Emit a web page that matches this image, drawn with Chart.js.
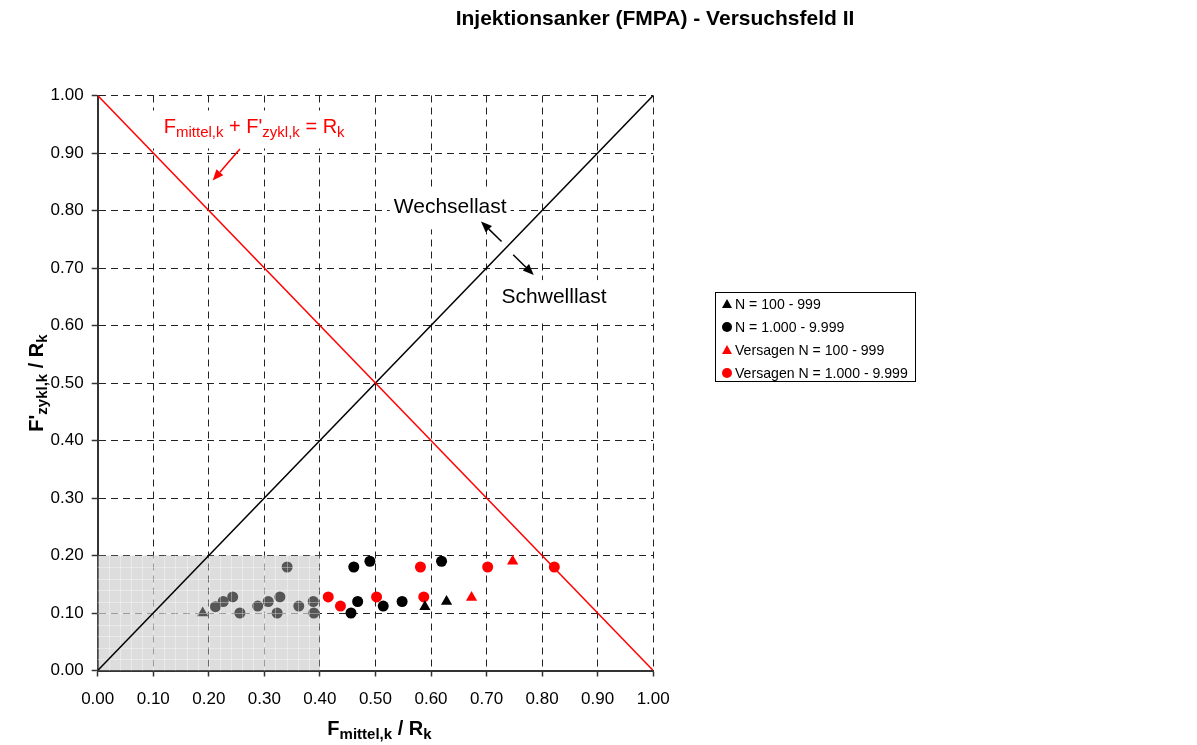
<!DOCTYPE html>
<html>
<head>
<meta charset="utf-8">
<script src="https://cdn.jsdelivr.net/npm/chart.js@4.4.1/dist/chart.umd.min.js"></script>
<style>
  body { margin: 0; background: #fff; }
  #wrap { position: relative; width: 1197px; height: 745px; }
  #legend {
    position: absolute; left: 715px; top: 292px; width: 199px; height: 88px;
    border: 1px solid #000; background: #fff;
    font: 14.1px "Liberation Sans", Arial, sans-serif; color: #000;
  }
  #legend .row { position: absolute; left: 0; height: 20px; line-height: 20px; white-space: nowrap; }
  #legend .mk { position: absolute; left: 6px; top: 5px; }
  #legend .txt { position: absolute; left: 19px; top: 0; }
</style>
</head>
<body>
<div id="wrap">
  <canvas id="chart" width="1197" height="745"></canvas>
  <div id="legend"></div>
</div>
<script>
const FONT = '"Liberation Sans", Arial, Helvetica, sans-serif';

// black triangles: N = 100 - 999
const blackTriX = [0.189, 0.589, 0.628];
const blackTriY = [0.10, 0.111, 0.12];
// black circles: N = 1.000 - 9.999
const blackDotX = [0.212, 0.226, 0.243, 0.256, 0.288, 0.307, 0.323, 0.328, 0.341, 0.362, 0.388, 0.389,
  0.456, 0.461, 0.468, 0.490, 0.514, 0.548, 0.619];
const blackDotY = [0.111, 0.12, 0.128, 0.10, 0.112, 0.12, 0.10, 0.128, 0.18, 0.112, 0.12, 0.10,
  0.10, 0.18, 0.12, 0.19, 0.112, 0.12, 0.19];
// red triangles: Versagen N = 100 - 999
const redTriX = [0.673, 0.747];
const redTriY = [0.127, 0.19];
// red circles: Versagen N = 1.000 - 9.999
const redDotX = [0.415, 0.437, 0.502, 0.581, 0.587, 0.702, 0.822];
const redDotY = [0.128, 0.112, 0.128, 0.18, 0.128, 0.18, 0.18];

// lines
const limitX = [0, 1], limitY = [1, 0];   // Fmittel + F'zykl = Rk
const diagX = [0, 1], diagY = [0, 1];     // Wechsellast / Schwelllast

// shaded region
const shadeX = [0, 0.4], shadeY = [0, 0.2];

const tickValues = [0, 0.1, 0.2, 0.3, 0.4, 0.5, 0.6, 0.7, 0.8, 0.9, 1.0];

const toPts = (xs, ys) => xs.map((x, i) => ({ x: x, y: ys[i] }));

function richText(ctx, parts, x, y, size, subSize, weight, color) {
  let cx = x;
  ctx.fillStyle = color;
  ctx.textAlign = 'left';
  ctx.textBaseline = 'alphabetic';
  parts.forEach(([t, sub]) => {
    ctx.font = weight + ' ' + (sub ? subSize : size) + 'px ' + FONT;
    ctx.fillText(t, cx, sub ? y + size * 0.2 : y);
    cx += ctx.measureText(t).width;
  });
  return cx - x;
}

function richWidth(ctx, parts, size, subSize, weight) {
  let w = 0;
  parts.forEach(([t, sub]) => {
    ctx.font = weight + ' ' + (sub ? subSize : size) + 'px ' + FONT;
    w += ctx.measureText(t).width;
  });
  return w;
}

function arrow(ctx, x1, y1, x2, y2, color) {
  const a = Math.atan2(y2 - y1, x2 - x1), L = 11, W = 4.5;
  const bx = x2 - L * Math.cos(a), by = y2 - L * Math.sin(a);
  ctx.save();
  ctx.strokeStyle = color; ctx.fillStyle = color; ctx.lineWidth = 1.5;
  ctx.beginPath(); ctx.moveTo(x1, y1); ctx.lineTo(bx, by); ctx.stroke();
  ctx.beginPath();
  ctx.moveTo(x2, y2);
  ctx.lineTo(bx + W * Math.sin(a), by - W * Math.cos(a));
  ctx.lineTo(bx - W * Math.sin(a), by + W * Math.cos(a));
  ctx.closePath(); ctx.fill();
  ctx.restore();
}

let shadeDrawn = false;
const decorPlugin = {
  id: 'decor',
  beforeDatasetsDraw() { shadeDrawn = false; },
  beforeDatasetDraw(chart, args) {
    // grey box goes over the points but under the two lines
    if (shadeDrawn || !chart.data.datasets[args.index].showLine) return;
    shadeDrawn = true;
    const ctx = chart.ctx, xs = chart.scales.x, ys = chart.scales.y;
    const l = xs.getPixelForValue(shadeX[0]), r = xs.getPixelForValue(shadeX[1]);
    const t = ys.getPixelForValue(shadeY[1]), b = ys.getPixelForValue(shadeY[0]);
    ctx.save();
    ctx.fillStyle = 'rgba(182,182,182,0.47)';
    ctx.fillRect(l, t, r - l, b - t);
    ctx.strokeStyle = 'rgba(255,255,255,0.35)';
    ctx.lineWidth = 1;
    ctx.beginPath();
    for (let v = shadeX[0] + 0.02; v < shadeX[1] - 0.001; v += 0.02) {
      const px = Math.round(xs.getPixelForValue(v)) + 0.5;
      ctx.moveTo(px, t); ctx.lineTo(px, b);
    }
    for (let v = shadeY[0] + 0.02; v < shadeY[1] - 0.001; v += 0.02) {
      const py = Math.round(ys.getPixelForValue(v)) + 0.5;
      ctx.moveTo(l, py); ctx.lineTo(r, py);
    }
    ctx.stroke();
    ctx.restore();
  },
  afterDraw(chart) {
    const ctx = chart.ctx, xs = chart.scales.x, ys = chart.scales.y;
    const X = v => xs.getPixelForValue(v), Y = v => ys.getPixelForValue(v);
    ctx.save();

    // title
    ctx.font = 'bold 21px ' + FONT;
    ctx.fillStyle = '#000';
    ctx.textAlign = 'center';
    ctx.textBaseline = 'alphabetic';
    ctx.fillText('Injektionsanker (FMPA) - Versuchsfeld II', 655, 25);

    // x axis title
    const xt = [['F', false], ['mittel,k', true], [' / R', false], ['k', true]];
    const xw = richWidth(ctx, xt, 20, 15, 'bold');
    richText(ctx, xt, (chart.chartArea.left + chart.chartArea.right) / 2 - xw / 2 + 4, 735, 20, 15, 'bold', '#000');

    // y axis title
    const yt = [["F'", false], ['zykl,k', true], [' / R', false], ['k', true]];
    const yw = richWidth(ctx, yt, 20, 15, 'bold');
    ctx.save();
    ctx.translate(43, (chart.chartArea.top + chart.chartArea.bottom) / 2);
    ctx.rotate(-Math.PI / 2);
    richText(ctx, yt, -yw / 2, 0, 20, 15, 'bold', '#000');
    ctx.restore();

    // red label with white box
    const rl = [['F', false], ['mittel,k', true], [" + F'", false], ['zykl,k', true], [' = R', false], ['k', true]];
    const rlw = richWidth(ctx, rl, 20, 15, 'normal');
    const rx = X(0.119), ry = Y(0.934);
    ctx.fillStyle = '#fff';
    ctx.fillRect(rx - 13, ry - 23, rlw + 26, 38);
    richText(ctx, rl, rx, ry, 20, 15, 'normal', '#ff0000');
    arrow(ctx, X(0.256), Y(0.907), X(0.207), Y(0.852), '#ff0000');

    // Wechsellast / Schwelllast
    ctx.font = '21px ' + FONT;
    ctx.textAlign = 'left';
    [['Wechsellast', 0.533, 0.795], ['Schwelllast', 0.727, 0.639]].forEach(([txt, vx, vy]) => {
      const w = ctx.measureText(txt).width;
      const px = X(vx), py = Y(vy);
      ctx.fillStyle = '#fff';
      ctx.fillRect(px - 4, py - 23, w + 8, 39);
      ctx.fillStyle = '#000';
      ctx.fillText(txt, px, py);
    });
    arrow(ctx, X(0.727), Y(0.746), X(0.690), Y(0.781), '#000');
    arrow(ctx, X(0.748), Y(0.723), X(0.785), Y(0.688), '#000');

    ctx.restore();
  }
};

const pointDs = (label, xs, ys, color, style, r) => ({
  label: label,
  data: toPts(xs, ys),
  showLine: false,
  pointStyle: style,
  pointRadius: r,
  pointHoverRadius: r,
  pointBackgroundColor: color,
  pointBorderColor: color,
  pointBorderWidth: 0,
  marker: style,
  color: color,
  order: 2
});

const lineDs = (xs, ys, color) => ({
  label: '',
  data: toPts(xs, ys),
  showLine: true,
  borderColor: color,
  borderWidth: 1.5,
  pointRadius: 0,
  hideInLegend: true,
  order: 1
});

function axis(extra) {
  return Object.assign({
    type: 'linear',
    min: 0,
    max: 1,
    afterBuildTicks: s => { s.ticks = tickValues.map(v => ({ value: v })); },
    grid: {
      color: '#222',
      lineWidth: 1,
      drawTicks: true,
      tickLength: 6,
      tickColor: '#333',
      tickWidth: 1.5,
      tickBorderDash: []
    },
    border: { display: true, color: '#333', width: 2, dash: [7, 5] }
  }, extra);
}

const chart = new Chart(document.getElementById('chart'), {
  type: 'scatter',
  data: {
    datasets: [
      pointDs('N = 100 - 999', blackTriX, blackTriY, '#000', 'triangle', 6.5),
      pointDs('N = 1.000 - 9.999', blackDotX, blackDotY, '#000', 'circle', 5.5),
      pointDs('Versagen N = 100 - 999', redTriX, redTriY, '#ff0000', 'triangle', 6.5),
      pointDs('Versagen N = 1.000 - 9.999', redDotX, redDotY, '#ff0000', 'circle', 5.5),
      lineDs(limitX, limitY, '#ff0000'),
      lineDs(diagX, diagY, '#000')
    ]
  },
  options: {
    responsive: false,
    animation: false,
    devicePixelRatio: 1,
    layout: { padding: { left: 0, top: 95.5, right: 543.8, bottom: 0 } },
    scales: {
      x: axis({
        position: 'bottom',
        afterFit: s => { s.height = 74.5; },
        ticks: {
          callback: v => v.toFixed(2), font: { family: FONT, size: 17 }, color: '#000',
          autoSkip: false, maxRotation: 0, padding: 13
        }
      }),
      y: axis({
        position: 'left',
        afterFit: s => { s.width = 97.7; },
        ticks: {
          callback: v => v.toFixed(2), font: { family: FONT, size: 17 }, color: '#000',
          autoSkip: false, padding: 8
        }
      })
    },
    plugins: {
      legend: { display: false },
      title: { display: false },
      tooltip: { enabled: false }
    }
  },
  plugins: [decorPlugin]
});

// legend box
const legendEl = document.getElementById('legend');
chart.data.datasets.filter(d => !d.hideInLegend).forEach((d, i) => {
  const row = document.createElement('div');
  row.className = 'row';
  row.style.top = (i * 23 + 1) + 'px';
  const mk = document.createElement('span');
  mk.className = 'mk';
  if (d.marker === 'triangle') {
    mk.style.cssText = 'width:0;height:0;border-left:5px solid transparent;border-right:5px solid transparent;border-bottom:9px solid ' + d.color + ';top:5px;';
  } else {
    mk.style.cssText = 'width:10px;height:10px;border-radius:50%;background:' + d.color + ';';
  }
  const txt = document.createElement('span');
  txt.className = 'txt';
  txt.textContent = d.label;
  row.appendChild(mk);
  row.appendChild(txt);
  legendEl.appendChild(row);
});
</script>
</body>
</html>
